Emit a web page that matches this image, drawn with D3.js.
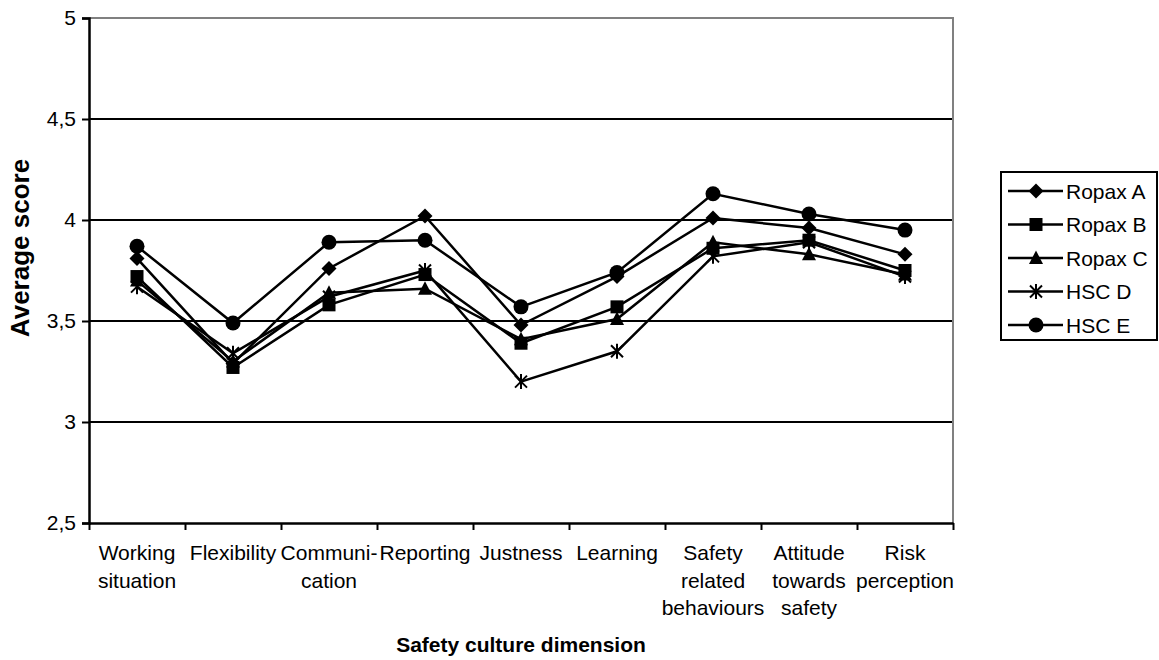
<!DOCTYPE html>
<html><head><meta charset="utf-8">
<script src="https://cdn.jsdelivr.net/npm/d3@7/dist/d3.min.js"></script>
<style>body{margin:0;background:#fff}text{font-family:"Liberation Sans",Arial,sans-serif;fill:#000}</style>
</head><body>
<svg id="c" width="1159" height="660"></svg>
<script>
const categories = ["Working situation","Flexibility","Communi-cation","Reporting","Justness","Learning","Safety related behaviours","Attitude towards safety","Risk perception"];
const categoryLines = [["Working","situation"],["Flexibility"],["Communi-","cation"],["Reporting"],["Justness"],["Learning"],["Safety","related","behaviours"],["Attitude","towards","safety"],["Risk","perception"]];
const seriesNames = ["Ropax A","Ropax B","Ropax C","HSC D","HSC E"];
const ropaxA = [3.81,3.29,3.76,4.02,3.48,3.72,4.01,3.96,3.83];
const ropaxB = [3.72,3.27,3.58,3.73,3.39,3.57,3.86,3.90,3.75];
const ropaxC = [3.70,3.30,3.64,3.66,3.41,3.51,3.89,3.83,3.73];
const hscD   = [3.67,3.34,3.62,3.75,3.20,3.35,3.82,3.89,3.72];
const hscE   = [3.87,3.49,3.89,3.90,3.57,3.74,4.13,4.03,3.95];
const markerTypes = ["diamond","square","triangle","star","circle"];
const yTicks = [2.5,3,3.5,4,4.5,5];
const yTickLabels = ["2,5","3","3,5","4","4,5","5"];
const yTitle = "Average score";
const xTitle = "Safety culture dimension";

const seriesValues = [ropaxA,ropaxB,ropaxC,hscD,hscE];
const svg = d3.select("#c");
const L=89,R=953,T=18,B=523;
const FS=21;
const x = d3.scaleBand().domain(categories).range([L,R]);
const xEdge = d3.scaleLinear().domain([0,categories.length]).range([L,R]);
const y = d3.scaleLinear().domain([2.5,5]).range([B,T]);

// gridlines
svg.append("g").selectAll("line").data(yTicks.filter(v=>v>2.5&&v<5)).join("line")
  .attr("x1",L).attr("x2",R).attr("y1",d=>y(d)).attr("y2",d=>y(d))
  .attr("stroke","#000").attr("stroke-width",2);
// plot border top/right gray
svg.append("path").attr("d",`M${L},${y(5)}H${R}V${B}`).attr("fill","none").attr("stroke","#808080").attr("stroke-width",2);

// y axis
const ya = svg.append("g").attr("transform",`translate(${L},0)`)
  .call(d3.axisLeft(y).tickValues(yTicks).tickFormat((d,i)=>yTickLabels[i]).tickSize(7).tickPadding(6));
ya.select(".domain").attr("stroke","#000").attr("stroke-width",2.5);
ya.selectAll(".tick line").attr("stroke","#000").attr("stroke-width",2);
ya.selectAll(".tick text").attr("font-size",FS).attr("font-family","Liberation Sans, Arial, sans-serif");

// x axis
const xa = svg.append("g").attr("transform",`translate(0,${B})`)
  .call(d3.axisBottom(xEdge).tickValues(d3.range(categories.length+1)).tickFormat("").tickSize(7).tickSizeOuter(0));
xa.select(".domain").attr("stroke","#000").attr("stroke-width",2.5);
xa.selectAll(".tick line").attr("stroke","#000").attr("stroke-width",2);

// x labels
const xl = svg.append("g").selectAll("text").data(categories).join("text")
  .attr("text-anchor","middle").attr("font-size",FS)
  .attr("x",d=>x(d)+x.bandwidth()/2).attr("y",560);
xl.each(function(d,i){
  d3.select(this).selectAll("tspan").data(categoryLines[i]).join("tspan")
    .attr("x",x(d)+x.bandwidth()/2).attr("dy",(t,j)=>j===0?0:27.5).text(t=>t);
});

// titles
svg.append("text").attr("text-anchor","middle").attr("font-weight","bold").attr("font-size",26)
  .attr("transform",`translate(29,248) rotate(-90)`).text(yTitle);
svg.append("text").attr("text-anchor","middle").attr("font-weight","bold").attr("font-size",21)
  .attr("x",(L+R)/2).attr("y",652).text(xTitle);

function marker(g,type,cx,cy){
  const s=7.5;
  if(type==="diamond") g.append("path").attr("d",`M${cx},${cy-s}L${cx+s},${cy}L${cx},${cy+s}L${cx-s},${cy}Z`).attr("fill","#000");
  else if(type==="square") g.append("rect").attr("x",cx-6.5).attr("y",cy-6.5).attr("width",13).attr("height",13).attr("fill","#000");
  else if(type==="triangle") g.append("path").attr("d",`M${cx},${cy-7.5}L${cx+7},${cy+6}L${cx-7},${cy+6}Z`).attr("fill","#000");
  else if(type==="circle") g.append("circle").attr("cx",cx).attr("cy",cy).attr("r",7.5).attr("fill","#000");
  else if(type==="star") g.append("path").attr("d",`M${cx-6},${cy-6}L${cx+6},${cy+6}M${cx+6},${cy-6}L${cx-6},${cy+6}M${cx},${cy-7.5}V${cy+7.5}`).attr("stroke","#000").attr("stroke-width",2).attr("fill","none");
}

const line = d3.line().x((d,i)=>x(categories[i])+x.bandwidth()/2).y(d=>y(d));
seriesValues.forEach((vals,si)=>{
  const g = svg.append("g");
  g.append("path").attr("d",line(vals)).attr("fill","none").attr("stroke","#000").attr("stroke-width",2.5);
  vals.forEach((v,i)=>marker(g,markerTypes[si],x(categories[i])+x.bandwidth()/2,y(v)));
});

// legend
const lg = svg.append("g");
lg.append("rect").attr("x",1001).attr("y",172).attr("width",156).attr("height",168).attr("fill","#fff").attr("stroke","#000").attr("stroke-width",2);
seriesNames.forEach((n,i)=>{
  const cy = 191 + i*33.5;
  lg.append("line").attr("x1",1008).attr("x2",1063).attr("y1",cy).attr("y2",cy).attr("stroke","#000").attr("stroke-width",2.5);
  marker(lg,markerTypes[i],1036,cy);
  lg.append("text").attr("x",1066).attr("y",cy+7.5).attr("font-size",FS).text(n);
});
</script></body></html>
